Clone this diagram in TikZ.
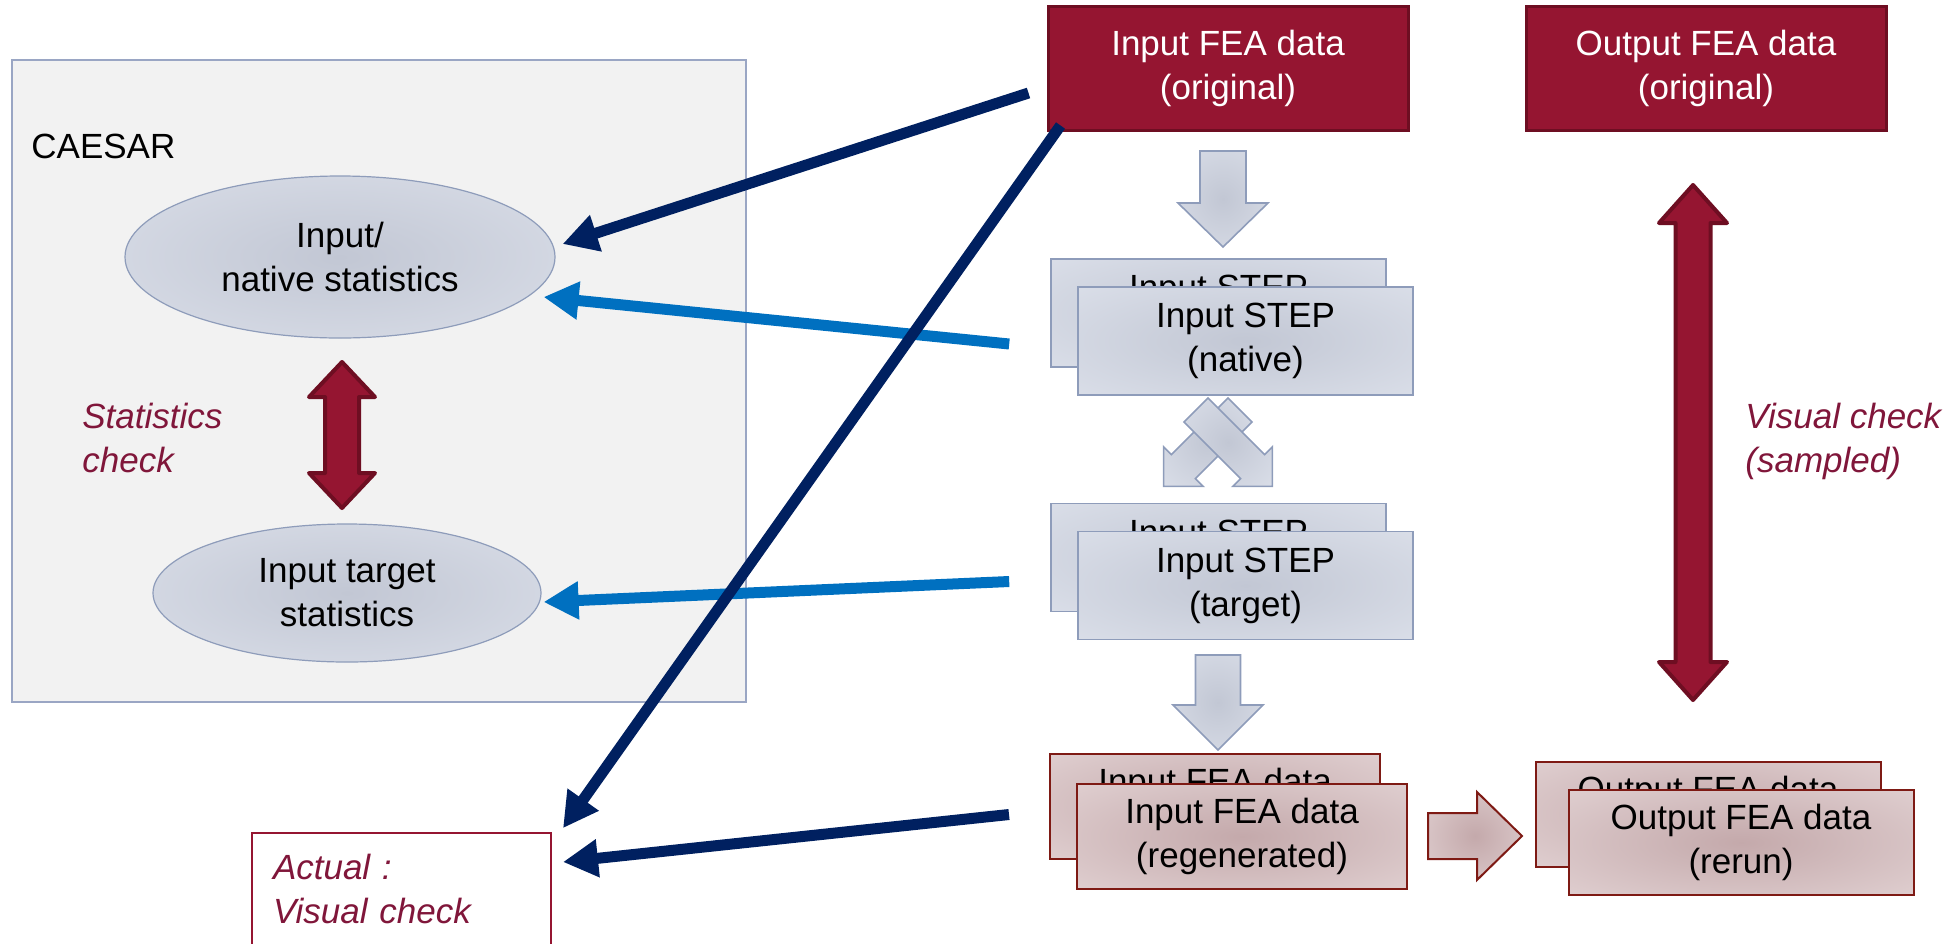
\documentclass[tikz,border=0pt]{standalone}
\usepackage{fontspec}
\setmainfont{Liberation Sans}
\usepackage{tikz}
\usetikzlibrary{shapes.geometric}
\usetikzlibrary{positioning}
\usetikzlibrary{arrows.meta}
\usetikzlibrary{calc}

\definecolor{srcred}{HTML}{951531}
\definecolor{srcedge}{HTML}{6E0E22}
\definecolor{checkred}{HTML}{80163A}
\definecolor{navyline}{HTML}{002060}
\definecolor{skyline}{HTML}{0070C0}
\definecolor{stepedge}{HTML}{8E9CBA}
\definecolor{steprim}{HTML}{E3E7F0}
\definecolor{stepmid}{HTML}{C2C7D4}
\definecolor{feaedge}{HTML}{7E1A14}
\definecolor{fearim}{HTML}{EADDDE}
\definecolor{feamid}{HTML}{C4A9AB}
\definecolor{caesarfill}{HTML}{F2F2F2}
\definecolor{caesaredge}{HTML}{9AA6C4}

\pgfdeclareradialshading{stepglow}{\pgfpoint{0bp}{0bp}}{color(0bp)=(stepmid); color(50bp)=(steprim); color(71bp)=(steprim)}
\pgfdeclareradialshading{feaglow}{\pgfpoint{0bp}{0bp}}{color(0bp)=(feamid); color(50bp)=(fearim); color(71bp)=(fearim)}

\tikzset{
    every node/.style={font=\fontsize{17.5}{22}\selectfont},
    srcbox/.style={rectangle, draw=srcedge, fill=srcred, line width=1.5pt, text=white,
        align=center, minimum width=180pt, minimum height=62pt},
    stepbox/.style={rectangle, draw=stepedge, shade, shading=stepglow,
        line width=0.8pt, align=center, minimum width=167.5pt, minimum height=54pt},
    feabox/.style={rectangle, draw=feaedge, shade, shading=feaglow,
        line width=1pt, align=center, minimum height=52.5pt},
    statnode/.style={ellipse, draw=stepedge, shade, shading=stepglow,
        line width=0.6pt, align=center},
    checknote/.style={text=checkred, font=\fontsize{17.5}{22}\selectfont\itshape, align=left},
    plainlabel/.style={anchor=west, inner sep=0pt},
    actualbox/.style={rectangle, draw=srcred, line width=1pt, checknote, inner sep=10.5pt,
        text width=128.5pt, minimum height=54pt},
    navyarrow/.style={draw=navyline, line width=5.5pt, -{Triangle[length=17.5pt,width=18pt]}},
    skyarrow/.style={draw=skyline, line width=5.5pt, -{Triangle[length=17.5pt,width=18pt]}},
    steparrow/.style={draw=stepedge, line width=0.8pt, shade, shading=stepglow},
    feaarrow/.style={draw=feaedge, line width=1pt, shade, shading=feaglow},
    checkarrow/.style={draw=srcedge, fill=srcred, line width=2pt, line join=round},
    pics/blockarrow/.style n args={4}{code={
        % #1 length, #2 half shaft, #3 half head, #4 head length
        \path[pic actions] (0,-#2) -- ({#1-#4},-#2) -- ({#1-#4},-#3) -- (#1,0)
            -- ({#1-#4},#3) -- ({#1-#4},#2) -- (0,#2) -- cycle;
    }},
    pics/twinarrow/.style n args={4}{code={
        \path[pic actions] ({-#1/2},0) -- ({-#1/2+#4},-#3) -- ({-#1/2+#4},-#2)
            -- ({#1/2-#4},-#2) -- ({#1/2-#4},-#3) -- ({#1/2},0) -- ({#1/2-#4},#3)
            -- ({#1/2-#4},#2) -- ({-#1/2+#4},#2) -- ({-#1/2+#4},#3) -- cycle;
    }},
}

\begin{document}
\begin{tikzpicture}[x=0.5pt, y=-0.5pt]
    \useasboundingbox (0,0) rectangle (1959,943);

    % CAESAR side
    \draw[caesaredge, fill=caesarfill, line width=0.6pt] (12,60) rectangle (746,702);
    \node[plainlabel] (caesar) at (31,146) {CAESAR};
    \node[statnode, minimum width=215pt, minimum height=81pt] (nativestat) at (340,257) {Input/\\native statistics};
    \node[statnode, minimum width=194pt, minimum height=69pt] (targetstat) at (347,593) {Input target\\statistics};
    \pic[checkarrow, rotate=90] at (342,435) {twinarrow={146}{17}{33}{35}};
    \node[checknote, plainlabel] (statcheck) at (82,438) {Statistics\\check};

    % source data
    \node[srcbox] (inorig) at (1228,68) {Input FEA data\\(original)};
    \node[srcbox] (outorig) at (1706,68) {Output FEA data\\(original)};

    % conversion chain
    \pic[steparrow, rotate=-90] at (1223,151) {blockarrow={96}{23}{45}{44}};
    \node[stepbox] (stepnativeb) at (1218.5,313) {Input STEP\\(native)};
    \node[stepbox] (stepnative) at (1245.5,341) {Input STEP\\(native)};
    \pic[steparrow, rotate=-135] at (1240,410) {blockarrow={108}{17}{28}{28}};
    \pic[steparrow, rotate=-45] at (1196,410) {blockarrow={108}{17}{28}{28}};
    \node[stepbox] (steptargetb) at (1218.5,557.5) {Input STEP\\(target)};
    \node[stepbox] (steptarget) at (1245.5,585.5) {Input STEP\\(target)};
    \pic[steparrow, rotate=-90] at (1218,655) {blockarrow={95}{22.5}{45}{45}};
    \node[feabox, minimum width=165pt] (regenb) at (1215,806.5) {Input FEA data\\(regenerated)};
    \node[feabox, minimum width=165pt] (regen) at (1242,836.5) {Input FEA data\\(regenerated)};
    \pic[feaarrow] at (1428,836) {blockarrow={94}{23}{44}{45}};
    \node[feabox, minimum width=172.5pt] (rerunb) at (1708,814) {Output FEA data\\(rerun)};
    \node[feabox, minimum width=172.5pt] (rerun) at (1741,842.5) {Output FEA data\\(rerun)};

    % sampled check
    \pic[checkarrow, rotate=90] at (1693,442.5) {twinarrow={515}{17.5}{34}{38}};
    \node[checknote, plainlabel] (visualcheck) at (1745,441) {Visual check\\(sampled)};

    \node[actualbox] (actual) at (401.5,889) {Actual :\\Visual check};

    % comparisons
    \draw[skyarrow] ($(stepnative.west)+(-68,3)$) -- ($(nativestat.east)+(-12,40)$);
    \draw[skyarrow] ($(steptarget.west)+(-68,-4)$) -- ($(targetstat.east)+(2,9)$);
    \draw[navyarrow] ($(inorig.west)+(-18,25)$) -- ($(nativestat.east)+(7,-13)$);
    \draw[navyarrow] ($(inorig.south west)+(14,-6)$) -- ($(actual.north east)+(11,-4)$);
    \draw[navyarrow] ($(regen.west)+(-67,-22)$) -- ($(actual.east)+(11,-27)$);
\end{tikzpicture}
\end{document}
